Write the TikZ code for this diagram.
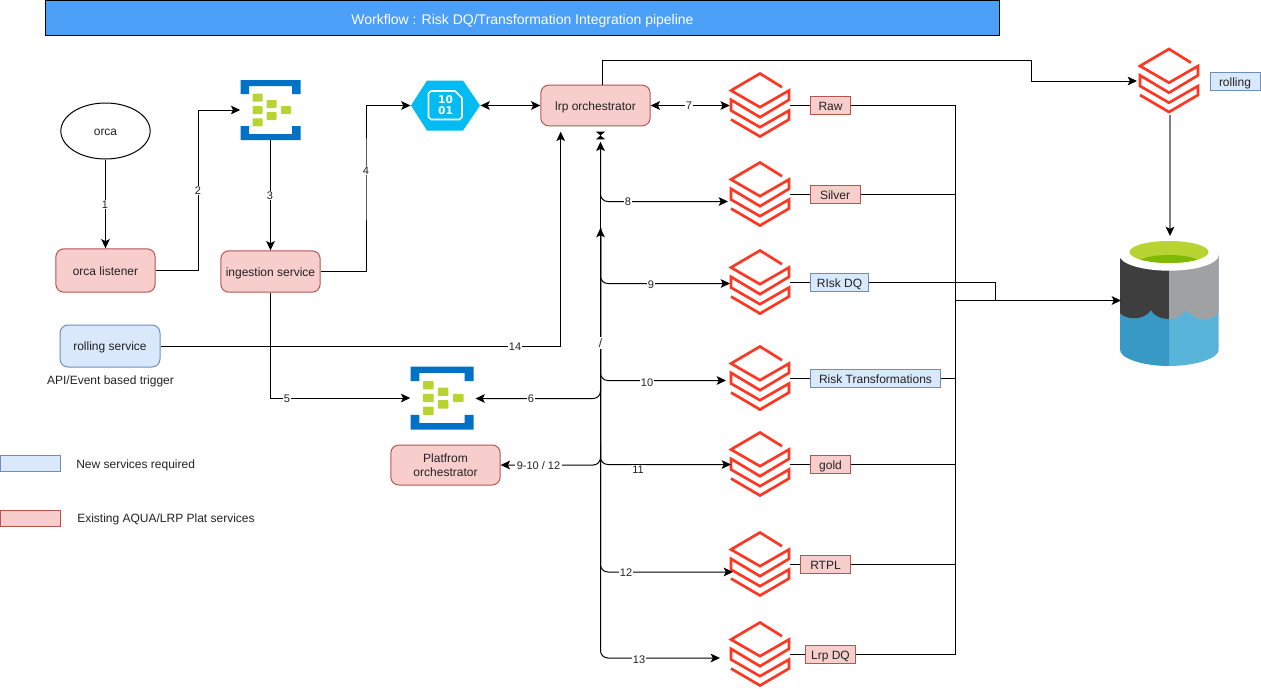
\documentclass[tikz,border=0pt]{standalone}
\usepackage{fontspec}
\setmainfont{Liberation Sans}
\newfontfamily\iconfont{DejaVu Sans}
\usetikzlibrary{arrows.meta,calc,shapes.geometric}
\definecolor{pinkfill}{HTML}{F8CECC}
\definecolor{pinkline}{HTML}{B85450}
\definecolor{bluefill}{HTML}{DAE8FC}
\definecolor{blueline}{HTML}{6C8EBF}
\definecolor{dbred}{HTML}{FF3621}
\definecolor{qblue}{HTML}{0072C6}
\definecolor{qgreen}{HTML}{B8D432}
\definecolor{hexblue}{HTML}{00BCF2}
\definecolor{titleblue}{HTML}{4C9FF6}
\definecolor{inktext}{HTML}{222222}
\definecolor{lakelb}{HTML}{59B4D9}
\definecolor{lakedb}{HTML}{3999C6}
\definecolor{lakedk}{HTML}{3E3E3E}
\definecolor{lakegr}{HTML}{A0A1A2}
\definecolor{lakeg}{HTML}{7FBA00}
\tikzset{
  x=0.75pt,y=-0.75pt,
  every node/.style={font=\fontsize{9}{10.5}\selectfont,text=inktext,inner sep=0pt,align=center},
  oneline/.style={text height=7.2pt,text depth=0pt},
  pinkround/.style={draw=pinkline,fill=pinkfill,rounded corners=6pt,line width=.75pt},
  blueround/.style={draw=blueline,fill=bluefill,rounded corners=6pt,line width=.75pt},
  pinktag/.style={draw=pinkline,fill=pinkfill,line width=.75pt,oneline},
  bluetag/.style={draw=blueline,fill=bluefill,line width=.75pt,oneline},
  conn/.style={draw=black,line width=.75pt},
  tip/.style={conn,-{Stealth[length=7pt,width=6.5pt,inset=1.6pt]}},
  bitip/.style={conn,{Stealth[length=7pt,width=6.5pt,inset=1.6pt]}-{Stealth[length=7pt,width=6.5pt,inset=1.6pt]}},
  curvy/.style={rounded corners=5.5pt},
  lab/.style={fill=white,font=\fontsize{8.25}{10}\selectfont,inner xsep=1pt,inner ysep=.5pt,yshift=-.5pt},
  iconbox/.style={minimum width=45pt,minimum height=48pt},
  dbline/.style={draw=dbred,line width=2pt,miter limit=4}
}
\newcommand{\dbicon}[2]{%
  \node[iconbox] (#1) at (#2) {};
  \draw[dbline,shift={(#2)}] (22,-18.3) -- (0,-32) -- (-29,-15) -- (0,1.7) -- (29,-15) -- (29,-5.7) -- (0,11.7) -- (-29,-5.7) -- (-29,5) -- (0,21.7) -- (29,5) -- (29,14) -- (0,31) -- (-29,14);
}
\newcommand{\queueicon}[3]{%
  \node[minimum width=#3*45pt,minimum height=#3*45pt] (#1) at (#2) {};
  \begin{scope}[shift={(#2)},scale=#3]
    \fill[qblue] (-30,-30) -- (30,-30) -- (30,-16) -- (21.5,-16) -- (21.5,-24) -- (-21.5,-24) -- (-21.5,-16) -- (-30,-16) -- cycle;
    \fill[qblue] (-30,30) -- (30,30) -- (30,16) -- (21.5,16) -- (21.5,24) -- (-21.5,24) -- (-21.5,16) -- (-30,16) -- cycle;
    \foreach \qx/\qy in {-13/-12.3,-13/0,-13/12.3,1/-6,1/6,15.5/0}
      \fill[qgreen,rounded corners=.6pt] (\qx-5,\qy-4) rectangle (\qx+5,\qy+4);
  \end{scope}
}
\begin{document}
\begin{tikzpicture}
\useasboundingbox (0,0) rectangle (1261,689);
% title
\node[draw=black,fill=titleblue,line width=.75pt,minimum width=716pt,minimum height=26.2pt,text=white,font=\fontsize{10.5}{12}\selectfont,text height=9pt,text depth=0pt] (title) at (522.5,18) {Workflow : Risk DQ/Transformation Integration pipeline};
% left nodes
\node[draw=black,fill=white,ellipse,minimum width=67pt,minimum height=42pt,line width=.75pt,oneline] (orca) at (105.5,131) {orca};
\node[pinkround,oneline,minimum width=74.5pt,minimum height=32.5pt] (listener) at (105.5,270.5) {orca listener};
\node[pinkround,oneline,minimum width=74.5pt,minimum height=31pt] (ingest) at (270.5,271.5) {ingestion service};
\node[blueround,oneline,minimum width=75pt,minimum height=31.5pt] (rolling) at (110,346) {rolling service};
\node[oneline] (apitext) at (110.5,380) {API/Event based trigger};
\node[pinkround,minimum width=82pt,minimum height=30pt] (platform) at (445.5,465) {Platfrom\\orchestrator};
\node[pinkround,oneline,minimum width=82pt,minimum height=30.5pt] (lrp) at (595.5,105.5) {lrp orchestrator};
% legend
\node[bluetag,minimum width=44.5pt,minimum height=12pt] (legnew) at (30.5,463) {};
\node[anchor=west,oneline] (legnewt) at (76,464) {New services required};
\node[pinktag,minimum width=44.5pt,minimum height=11.5pt] (legold) at (30.5,518.5) {};
\node[anchor=west,oneline] (legoldt) at (77,518) {Existing AQUA/LRP Plat services};
% queue icons
\queueicon{queue}{270.5,110}{1}
\queueicon{queueb}{442,398}{1.05}
% hexagon
\node[minimum width=52pt,minimum height=37.5pt] (hex) at (445.5,105.5) {};
\fill[hexblue] (411,105.5) -- (427,80.5) -- (463,80.5) -- (480,105.5) -- (463,130.5) -- (427,130.5) -- cycle;
\draw[white,line width=1.2pt,line join=round] (431,91) -- (455,91) -- (462,98) -- (462,117) -- (459.5,119.5) -- (431,119.5) -- (428.5,117) -- (428.5,93.5) -- cycle;
\node[text=white,font=\iconfont\bfseries\fontsize{8}{8}\selectfont] (hexa) at (445.5,100) {10};
\node[text=white,font=\iconfont\bfseries\fontsize{8}{8}\selectfont] (hexb) at (445.5,111) {01};
% databricks icons
\dbicon{draw}{760,105.5}
\dbicon{dsilver}{760,194.5}
\dbicon{drisk}{760,282.5}
\dbicon{dtrans}{760,378.5}
\dbicon{dgold}{760,464.5}
\dbicon{drtpl}{760,564.5}
\dbicon{dlrp}{760,654.5}
\dbicon{droll}{1169,81}
% tags
\node[pinktag,minimum width=30.5pt,minimum height=14pt] (traw) at (830.5,105.5) {Raw};
\node[pinktag,minimum width=37.5pt,minimum height=14pt] (tsilver) at (835,194.5) {Silver};
\node[bluetag,minimum width=44pt,minimum height=13.5pt] (trisk) at (839.5,282.5) {RIsk DQ};
\node[bluetag,minimum width=98pt,minimum height=14pt] (ttrans) at (875.5,378.5) {Risk Transformations};
\node[pinktag,minimum width=30.5pt,minimum height=14pt] (tgold) at (830.5,464.5) {gold};
\node[pinktag,minimum width=38pt,minimum height=14pt] (trtpl) at (825.5,564.5) {RTPL};
\node[pinktag,minimum width=38pt,minimum height=14pt] (tlrp) at (830.5,654.5) {Lrp DQ};
\node[bluetag,minimum width=37.5pt,minimum height=14pt] (troll) at (1235,81.5) {rolling};
% data lake
\node[minimum width=74pt,minimum height=94pt] (lake) at (1169,303) {};
\fill[lakelb] (1169,255) -- (1218.7,255) -- (1218.7,350) .. controls (1218.7,358) and (1196,366) .. (1169,366) -- cycle;
\fill[lakedb] (1169,255) -- (1120,255) -- (1120,350) .. controls (1120,358) and (1142,366) .. (1169,366) -- cycle;
\fill[lakedk] (1169,255) -- (1120,255) -- (1120,313) .. controls (1126,320) and (1144,321) .. (1151,310) .. controls (1155,317) and (1162,319) .. (1169,319) -- cycle;
\fill[lakegr] (1169,255) -- (1218.7,255) -- (1218.7,313) .. controls (1210,322) and (1195,321) .. (1186,310) .. controls (1181,317) and (1175,319) .. (1169,319) -- cycle;
\fill[white] (1169,255) ellipse [x radius=49.7,y radius=15.7];
\begin{scope}
  \clip (1169,252) ellipse [x radius=39.5,y radius=11];
  \fill[qgreen] (1125,238) rectangle (1213,266);
  \fill[lakeg] (1169,264) ellipse [x radius=33,y radius=9];
\end{scope}
% free ends and bends
\coordinate (c2) at (198.5,190);
\coordinate (c4) at (366,170);
\coordinate (tipa) at (600.5,145);
\coordinate (tipc) at (600.5,141.7);
\coordinate (tipb) at (600.5,228);
\coordinate (in8) at (728,201.5);
\coordinate (in9) at (730,283.5);
\coordinate (in10) at (726,380.5);
\coordinate (in11) at (731,464.5);
\coordinate (in12) at (733,572);
\coordinate (in13) at (720,658);
\coordinate (q6) at (475.5,398.5);
\coordinate (l14) at (560.7,131.7);
\coordinate (top1) at (602.5,60);
\coordinate (top2) at (1031,60);
\coordinate (bus) at (955.5,300.5);
\coordinate (busr) at (995.5,300.5);
\coordinate (lakein) at (1121,300.5);
\coordinate (rollin) at (1137,81);
\coordinate (b6) at (600.5,380);
\coordinate (b9) at (600.5,445);
\coordinate (rollout) at (1170,115);
\coordinate (lakeup) at (1170,236);
% left connectors
\draw[tip] (orca.south) -- (listener.north);
\draw[tip] (listener.east) -| (c2) |- (queue.west);
\draw[tip] (queue.south) -- (ingest.north);
\draw[tip] (ingest.east) -| (c4) |- (hex.west);
\draw[tip] (ingest.south) |- (queueb.west);
\draw[tip] (rolling.east) -| (l14);
\draw[bitip] (hex.east) -- (lrp.west);
\draw[bitip] (lrp.east) -- (draw.west);
% orchestrator bus
\draw[bitip,curvy] (in8) -| (tipc);
\draw[conn] (tipb) -- (tipa);
\draw[bitip,curvy] (in9) -| (tipb);
\draw[tip,curvy] (tipb) |- (in10);
\draw[tip,curvy] (b6) |- (q6);
\draw[tip,curvy] (b9) |- (platform.east);
\draw[tip,curvy] (tipb) |- (in11);
\draw[tip,curvy] (tipb) |- (in12);
\draw[tip,curvy] (tipb) |- (in13);
\fill[black] (596,131.7) -- (605,131.7) -- (600.5,135.5) -- (605,139.3) -- (596,139.3) -- (600.5,135.5) -- cycle;
\node[fill=white,minimum width=8pt,minimum height=9pt] (slash) at (600.5,343) {/};
% output connectors
\draw[conn] (draw.east) -- (traw.west);
\draw[conn] (dsilver.east) -- (tsilver.west);
\draw[conn] (drisk.east) -- (trisk.west);
\draw[conn] (dtrans.east) -- (ttrans.west);
\draw[conn] (dgold.east) -- (tgold.west);
\draw[conn] (drtpl.east) -- (trtpl.west);
\draw[conn] (dlrp.east) -- (tlrp.west);
\draw[conn] (traw.east) -| (bus);
\draw[conn] (tsilver.east) -| (bus);
\draw[conn] (ttrans.east) -| (bus);
\draw[conn] (tgold.east) -| (bus);
\draw[conn] (trtpl.east) -| (bus);
\draw[conn] (tlrp.east) -| (bus);
\draw[conn] (trisk.east) -| (busr) -- (bus);
\draw[tip,line width=1.1pt] (bus) -- (lakein);
\draw[tip] (lrp.north -| top1) |- (top2) |- (rollin);
\draw[tip,draw=gray,line width=1.1pt,-{Stealth[length=7pt,width=6.5pt,inset=1.6pt,color=black]}] (rollout) -- (lakeup);
% edge labels
\node[lab] (l1) at (105,204) {1};
\node[lab] (l2) at (198,190) {2};
\node[lab] (l3) at (270,195) {3};
\node[lab] (l4) at (366,170) {4};
\node[lab] (l5) at (287,398) {5};
\node[lab] (l6) at (531,398) {6};
\node[lab] (l7) at (689,105) {7};
\node[lab] (l8) at (628,201) {8};
\node[lab] (l9) at (651,284.5) {9};
\node[lab] (l10) at (647,382.5) {10};
\node[lab] (l11) at (638,469) {11};
\node[lab] (l12) at (626,572) {12};
\node[lab] (l13) at (639,659.5) {13};
\node[lab] (l14t) at (515,346) {14};
\node[lab] (l912) at (538.5,465) {9-10 / 12};
\end{tikzpicture}
\end{document}
